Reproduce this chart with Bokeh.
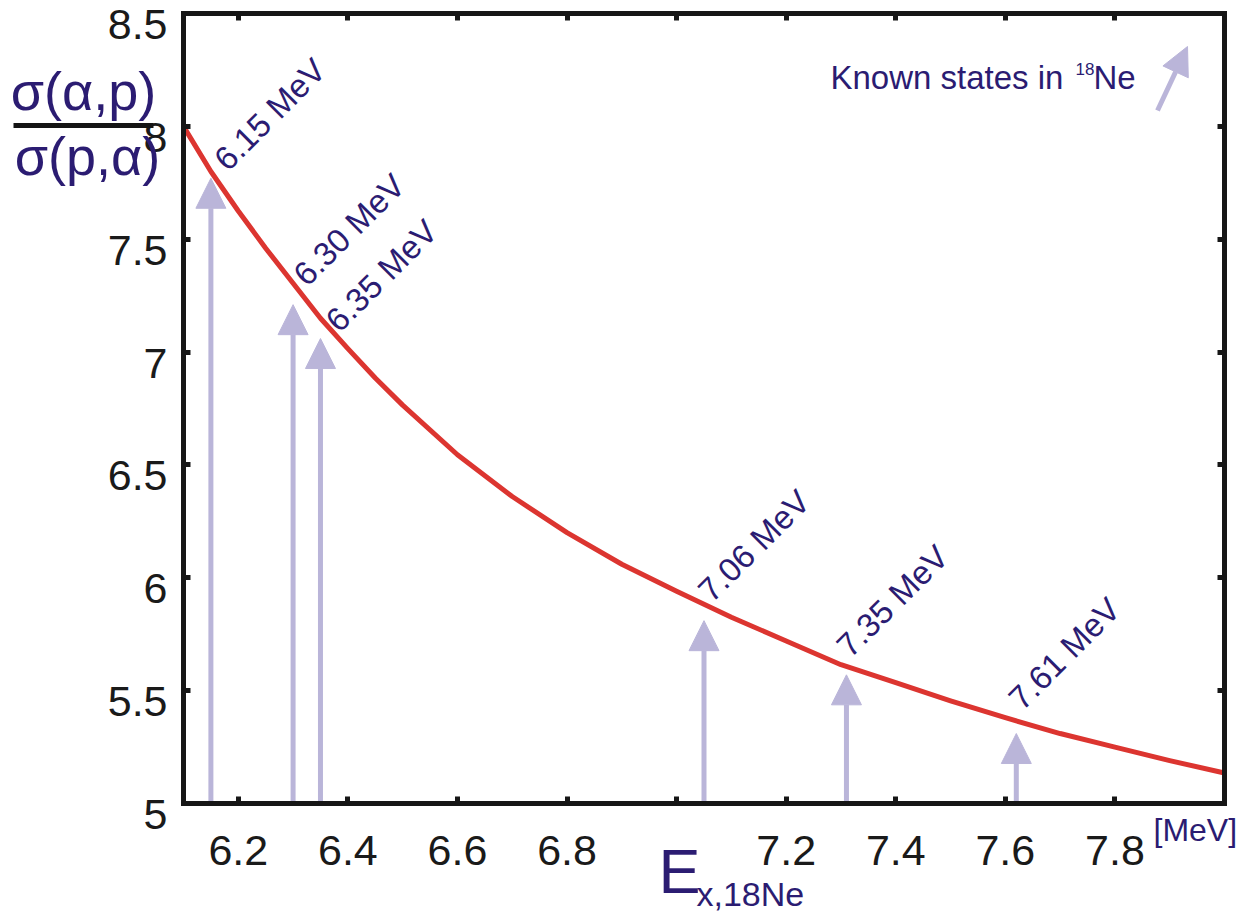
from bokeh.plotting import figure
from bokeh.models import (ColumnDataSource, Arrow, NormalHead, Label, LabelSet,
                          LinearAxis, FixedTicker, Range1d)
from bokeh.core.properties import value
from bokeh.embed import file_html
from bokeh.resources import INLINE

# ---- data ----
energy = [6.10, 6.15, 6.20, 6.25, 6.30, 6.35, 6.40, 6.45, 6.50, 6.60, 6.70,
          6.80, 6.90, 7.00, 7.10, 7.20, 7.30, 7.40, 7.50, 7.60, 7.70, 7.80,
          7.90, 8.00]
ratio = [8.00, 7.80, 7.625, 7.46, 7.305, 7.15, 7.015, 6.885, 6.765, 6.545, 6.36,
         6.20, 6.06, 5.94, 5.825, 5.72, 5.615, 5.535, 5.455, 5.38, 5.31, 5.25,
         5.19, 5.135]

state_labels = ["6.15 MeV", "6.30 MeV", "6.35 MeV", "7.06 MeV", "7.35 MeV", "7.61 MeV"]
state_x = [6.15, 6.30, 6.35, 7.05, 7.31, 7.62]
state_tip = [7.77, 7.21, 7.06, 5.81, 5.57, 5.31]

x_ticks = [6.2, 6.4, 6.6, 6.8, 7.0, 7.2, 7.4, 7.6, 7.8]
x_tick_labels = ["6.2", "6.4", "6.6", "6.8", "", "7.2", "7.4", "7.6", "7.8"]
y_ticks = [5.0, 5.5, 6.0, 6.5, 7.0, 7.5, 8.0, 8.5]
y_tick_labels = ["5", "5.5", "6", "6.5", "7", "7.5", "8", "8.5"]

X_MIN, X_MAX = 6.1, 8.0   # axis box limits
Y_MIN, Y_MAX = 5.0, 8.5

# ---- layout / styles ----
W, H = 1251, 916
BOX_L, BOX_R, BOX_T, BOX_B = 183, 1224, 13, 803   # pixel box of the axes
FONT = "Liberation Sans"
NAVY = "#2B1C72"
LAV = "#BAB5D9"
RED = "#DC3530"
INK = "#161616"
MID = 0.3465          # baseline -> box middle, in em
# label anchor offsets (px) from each arrow tip: right, up
label_dx = [9, 6, 11, 0, -4, -2]
label_dy = [14, 25, 13, 25, 24, 30]

sx = (BOX_R - BOX_L) / (X_MAX - X_MIN)
sy = (BOX_B - BOX_T) / (Y_MAX - Y_MIN)
x_range = Range1d(X_MIN - BOX_L / sx, X_MAX + (W - BOX_R) / sx)
y_range = Range1d(Y_MIN - (H - BOX_B) / sy, Y_MAX + BOX_T / sy)


def px(x):
    return X_MIN + (x - BOX_L) / sx


def py(y):
    return Y_MIN + (BOX_B - y) / sy


p = figure(width=W, height=H, x_range=x_range, y_range=y_range,
           output_backend="svg", toolbar_location=None,
           x_axis_location=None, y_axis_location=None, min_border=0)
p.grid.visible = False
p.outline_line_color = None
p.background_fill_color = "white"
p.border_fill_color = "white"


def make_axis(ticks, labels, loc, bounds, standoff=0, font_size="1px"):
    ax = LinearAxis(fixed_location=loc, bounds=bounds)
    ax.ticker = FixedTicker(ticks=ticks)
    ax.major_label_overrides = dict(zip(ticks, labels))
    ax.axis_line_width = 5
    ax.axis_line_color = INK
    ax.axis_line_cap = "square"
    ax.major_tick_line_width = 5
    ax.major_tick_line_color = INK
    ax.major_tick_in = 7
    ax.major_tick_out = 0
    ax.minor_tick_line_color = None
    ax.major_label_text_font = FONT
    ax.major_label_text_color = "#1a1a1a"
    ax.major_label_text_font_size = font_size
    ax.major_label_standoff = standoff
    return ax


blank_x = [""] * len(x_ticks)
blank_y = [""] * len(y_ticks)
p.add_layout(make_axis(x_ticks, x_tick_labels, Y_MIN, (X_MIN, X_MAX), 32, "43px"), "below")
p.add_layout(make_axis(x_ticks, blank_x, Y_MAX, (X_MIN, X_MAX)), "above")
p.add_layout(make_axis(y_ticks, blank_y, X_MIN, (Y_MIN, Y_MAX)), "left")
p.add_layout(make_axis(y_ticks, blank_y, X_MAX, (Y_MIN, Y_MAX)), "right")

# y tick labels (drawn slightly below their ticks, as in the reference)
ysrc = ColumnDataSource(dict(x=[X_MIN] * len(y_ticks), y=y_ticks, text=y_tick_labels))
p.add_layout(LabelSet(x="x", y="y", text="text", source=ysrc, x_offset=-16, y_offset=-11,
                      text_font=value(FONT), text_font_size="43px", text_color="#1a1a1a",
                      text_align="right", text_baseline="middle"))

# ---- known-state arrows ----
src = ColumnDataSource(dict(
    x=state_x,
    y0=[Y_MIN] * len(state_x),
    y1=state_tip,
    label=state_labels,
    lx=[x + d / sx for x, d in zip(state_x, label_dx)],
    ly=[y + d / sy for y, d in zip(state_tip, label_dy)],
))
arrows = Arrow(end=NormalHead(size=30, fill_color=LAV, line_color=LAV, line_width=1),
               x_start="x", y_start="y0", x_end="x", y_end="y1",
               line_color=LAV, line_width=5, source=src, level="underlay")
p.add_layout(arrows)

# ---- curve ----
p.line(energy, ratio, line_color=RED, line_width=5, line_join="round")

# ---- rotated state labels ----
p.add_layout(LabelSet(x="lx", y="ly", text="label",
                      angle=45, angle_units="deg", source=src,
                      text_font=value(FONT), text_font_size="33px", text_color=NAVY,
                      text_align="left", text_baseline="middle"))


def text(x, y, s, size, align="left"):
    """x: left/centre of text, y: baseline, both in reference pixels."""
    ymid = y - MID * size
    p.add_layout(Label(x=px(x), y=py(ymid), text=s, text_font=FONT,
                       text_font_size=f"{size}px", text_color=NAVY,
                       text_align=align, text_baseline="middle"))


# ---- legend: Known states in 18Ne ----
text(830, 88, "Known states in", 33)
text(1075, 74, "18", 17)
text(1093, 88, "Ne", 33)
p.add_layout(Arrow(end=NormalHead(size=28, fill_color=LAV, line_color=LAV, line_width=1),
                   x_start=px(1157), y_start=py(110), x_end=px(1187), y_end=py(46),
                   line_color=LAV, line_width=5))

# ---- y title: fraction ----
text(83, 109, "σ(α,p)", 54, "center")
text(87, 174, "σ(p,α)", 54, "center")
p.add_layout(Arrow(x_start=px(13), y_start=py(125), x_end=px(153), y_end=py(125),
                   start=None, end=None, line_color="#141414", line_width=5))

# ---- x title ----
text(658, 892, "E", 63)
text(696, 905, "x,18Ne", 34)
text(1153, 841, "[MeV]", 32)

open("out.html", "w").write(file_html(p, INLINE))
